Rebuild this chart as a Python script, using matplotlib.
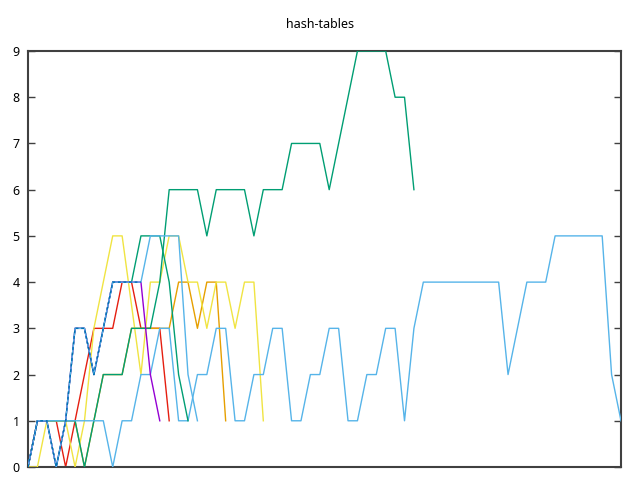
import matplotlib
matplotlib.use("Agg")
import matplotlib.pyplot as plt

# values per step
purple = [0, 1, 1, 0, 1, 3, 3, 2, 3, 4, 4, 4, 4, 2, 1]
blue = [0, 1, 1, 0, 1, 3, 3, 2, 3, 4, 4, 4, 4]
lb_short = [0, 1, 1, 0, 1, 3, 3, 2, 3, 4, 4, 4, 4, 5, 5, 5, 5, 2, 1]
green_short = [0, 1, 1, 0, 1, 3, 3, 2, 3, 4, 4, 4, 5, 5, 5, 4, 2, 1]
red = [0, 1, 1, 1, 0, 1, 2, 3, 3, 3, 4, 4, 3, 3, 3, 1]
orange = [0, 1, 1, 1, 1, 1, 0, 1, 2, 2, 2, 3, 3, 3, 3, 3, 4, 4, 3, 4, 4, 1]
yellow = [0, 0, 1, 1, 1, 0, 1, 3, 4, 5, 5, 3.5, 2, 4, 4, 5, 5, 4, 4, 3, 4, 4, 3, 4, 4, 1]
green_long = [0, 1, 1, 1, 1, 1, 0, 1, 2, 2, 2, 3, 3, 3, 4, 6, 6, 6, 6, 5, 6,
              6, 6, 6, 5, 6, 6, 6, 7, 7, 7, 7, 6, 7, 8, 9, 9, 9, 9, 8, 8, 6]
lb_long = [0, 1, 1, 1, 1, 1, 1, 1, 1, 0, 1, 1, 2, 2, 3, 3, 1, 1, 2, 2, 3, 3,
           1, 1, 2, 2, 3, 3, 1, 1, 2, 2, 3, 3, 1, 1, 2, 2, 3, 3, 1, 3, 4, 4,
           4, 4, 4, 4, 4, 4, 4, 2, 3, 4, 4, 4, 5, 5, 5, 5, 5, 5, 2, 1]

fig = plt.figure(figsize=(6.4, 4.8), dpi=100)
ax = fig.add_axes([28 / 640, 13 / 480, 593 / 640, 416 / 480])

def draw(vals, color, z, **kw):
    ax.plot(range(len(vals)), vals, color=color, lw=1.0, zorder=z, **kw)

draw(red, "#e51e10", 1)
draw(orange, "#e69f00", 2)
draw(yellow, "#f0e442", 3)
draw(green_long, "#009e73", 4)
draw(lb_long, "#56b4e9", 5)
draw(green_short, "#009e73", 6)
draw(purple, "#9400d3", 7)
draw(lb_short, "#56b4e9", 8)
draw(blue, "#0072b2", 9, linestyle=(0, (2, 2)))

ax.set_xlim(0, len(lb_long) - 1)
ax.set_ylim(0, 9)
ax.set_xticks([])
ax.set_yticks(range(10))
ax.tick_params(axis="y", direction="in", length=5, width=1, right=True,
               labelsize=9, colors="#404040", labelcolor="black", pad=6)
for s in ax.spines.values():
    s.set_linewidth(1.5)
    s.set_color("#404040")
for lab in ax.get_yticklabels():
    lab.set_family("Noto Sans")

fig.text(0.5, 1 - 25 / 480, "hash-tables", ha="center", va="center",
         fontsize=9, family="Noto Sans")

fig.savefig("out.png", dpi=100)
